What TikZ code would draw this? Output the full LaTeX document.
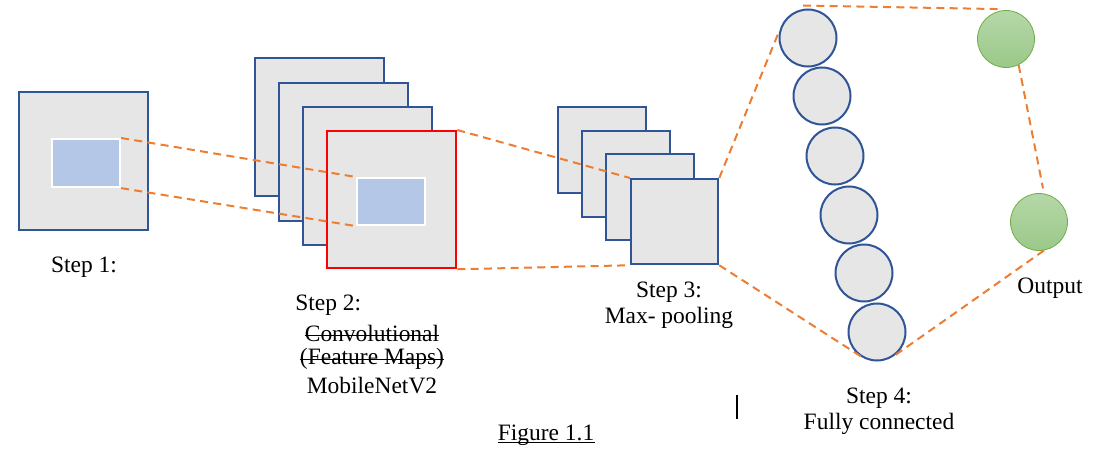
\documentclass[tikz,border=0pt]{standalone}
\usepackage{fontspec}
\setmainfont{Liberation Serif}
\usetikzlibrary{calc}
\definecolor{sqgray}{HTML}{E6E6E6}
\definecolor{sqblue}{HTML}{2F5597}
\definecolor{inblue}{HTML}{B4C7E7}
\definecolor{dashor}{HTML}{ED7D31}
\definecolor{gtop}{HTML}{B5D8A8}
\definecolor{gbot}{HTML}{9BC888}
\definecolor{gedge}{HTML}{70AD47}
\begin{document}
\begin{tikzpicture}[x=0.75pt,y=-0.75pt,
  big/.style={draw=sqblue,fill=sqgray,line width=1.7pt,inner sep=0pt,anchor=north west,
    minimum width=129*0.75pt,minimum height=138*0.75pt},
  redsq/.style={big,draw=red},
  small/.style={draw=sqblue,fill=sqgray,line width=1.7pt,inner sep=0pt,anchor=north west,
    minimum width=88*0.75pt,minimum height=86*0.75pt},
  inner/.style={draw=white,fill=inblue,line width=1.6pt,inner sep=0pt,anchor=north west,
    minimum width=68*0.75pt,minimum height=48*0.75pt},
  fc/.style={circle,draw=sqblue,fill=sqgray,line width=1.5pt,inner sep=0pt,minimum size=57*0.75pt},
  outc/.style={circle,draw=gedge,line width=0.6pt,top color=gtop,bottom color=gbot,inner sep=0pt,minimum size=57*0.75pt},
  link/.style={draw=dashor,line width=1.5pt,dash pattern=on 6pt off 4pt},
  lbl/.style={font=\fontsize{17.6}{20}\selectfont,inner sep=0pt},
  rule/.style={line width=0.7pt}]
\useasboundingbox (0,0) rectangle (1097,453);
% Step 1
\node[big] (S1) at (18,91) {};
\node[inner] (I1) at (51,138) {};
% Step 2
\node[big] (A) at (254,57) {};
\node[big] (B) at (278,82) {};
\node[big] (C) at (302,106) {};
\node[redsq,minimum height=137*0.75pt] (R) at (326,130) {};
\node[inner,minimum height=47*0.75pt] (I2) at (356,177) {};
% Step 3
\node[small] (P1) at (557,106) {};
\node[small] (P2) at (581,130) {};
\node[small] (P3) at (605,153) {};
\node[small,minimum width=87*0.75pt,minimum height=85*0.75pt] (P4) at (630,178) {};
% Fully connected
\node[fc] (F1) at (808,38) {};
\node[fc] (F2) at (822,96) {};
\node[fc] (F3) at (835,156) {};
\node[fc] (F4) at (849,215) {};
\node[fc] (F5) at (864,273) {};
\node[fc] (F6) at (877,332) {};
% Output
\node[outc] (G1) at (1006,39) {};
\node[outc] (G2) at (1039,222) {};
% Connectors
\draw[link] (I1.north east) -- (I2.north west);
\draw[link] (I1.south east) -- (I2.south west);
\draw[link] (R.north east) -- (P4.north west);
\draw[link] (R.south east) -- (P4.south west);
\draw[link] (P4.north east) -- (F1.165);
\draw[link] ([xshift=-5*0.75pt,yshift=3*0.75pt]F1.north) -- ([yshift=2*0.75pt]G1.105);
\draw[link] (G1.-64) -- ([yshift=5*0.75pt]G2.82);
\draw[link] (G2.-80) -- (F6.-60);
\draw[link] (P4.south east) -- (F6.-115);
% Labels
\node[lbl] (t1) at (84,267) {Step 1:};
\node[lbl,anchor=west] (t2) at (295,305) {Step 2:};
\node[lbl] (t2b) at (372,333) {Convolutional};
\node[lbl] (t2c) at (372,359) {(Feature Maps)};
\node[lbl] (t2d) at (372,386) {MobileNetV2};
\node[lbl] (t3) at (669,292) {Step 3:};
\node[lbl] (t3b) at (669,318) {Max- pooling};
\node[lbl] (t4) at (879,398) {Step 4:};
\node[lbl] (t4b) at (879,424) {Fully connected};
\node[lbl] (out) at (1050,288) {Output};
\node[lbl] (fig) at (546,435) {Figure 1.1};
% strike-through and underline
\draw[rule] ($(t2b.base west)+(0,-5.5)$) -- ($(t2b.base east)+(0,-5.5)$);
\draw[rule] ($(t2c.base west)+(0,-5.5)$) -- ($(t2c.base east)+(0,-5.5)$);
\draw[rule] ($(fig.base west)+(0,2.5)$) -- ($(fig.base east)+(0,2.5)$);
\coordinate (b1) at (737,395);
\coordinate (b2) at (737,419);
\draw[line width=0.8pt] (b1) -- (b2);
\end{tikzpicture}
\end{document}
